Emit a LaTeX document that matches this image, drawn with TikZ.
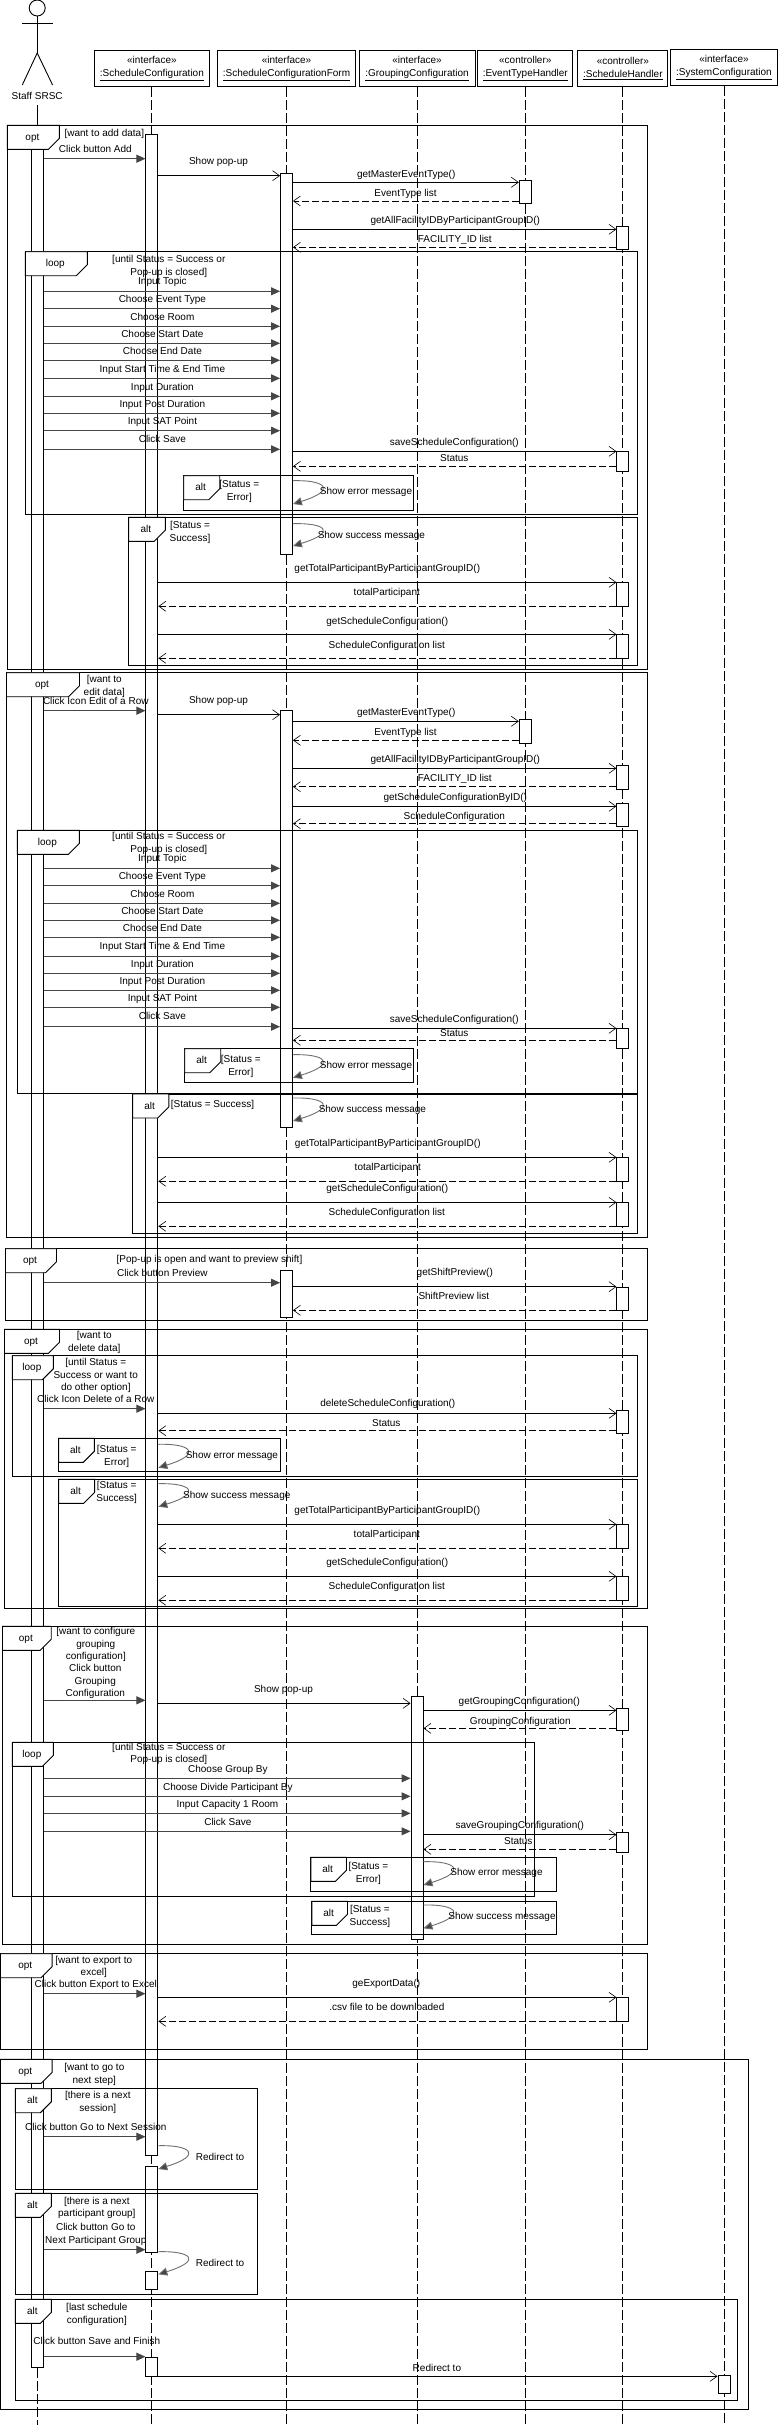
\documentclass[tikz,border=0pt]{standalone}
\usepackage{fontspec}
\setmainfont{Liberation Sans}
\usepackage{tikz}
\usetikzlibrary{arrows.meta}
\definecolor{msgline}{RGB}{70,70,70}
\definecolor{selfline}{RGB}{110,110,110}
\newcommand{\umlfrag}[7]{%
  \draw[fragbox] (#2,#3) rectangle (#4,#5);
  \draw[fraglabel] (#2,#3) -- ++(#6,0) -- ++(0,13) -- ++(-11,11) -- (#2,#3+24) -- cycle;
  \node[lab] (#1) at (#2+#6/2-1,#3+11.5) {#7};
}
\begin{document}
\begin{tikzpicture}[
  x=1pt, y=-1pt,
  every node/.style={font=\fontsize{10}{12.6}\selectfont},
  lab/.style={inner sep=0pt, text height=8pt, text depth=1pt},
  lab2/.style={inner sep=0pt, align=center, yshift=-1pt},
  head/.style={draw, line width=0.9pt, fill=white, align=center, minimum height=36.4pt, inner sep=0pt},
  lifeline/.style={line width=0.9pt, dash pattern=on 10pt off 3pt},
  actbar/.style={draw, line width=0.9pt, fill=white, anchor=north, minimum width=12pt, inner sep=0pt},
  fragbox/.style={draw, line width=0.9pt},
  fraglabel/.style={draw, line width=0.9pt, fill=white},
  usermsg/.style={draw=msgline, line width=0.9pt, -{Triangle[length=9pt, width=8pt, fill=msgline]}},
  callmsg/.style={draw=black, line width=0.9pt, -{Straight Barb[length=7pt, width=10pt, line width=0.6pt]}},
  retmsg/.style={callmsg, dash pattern=on 7pt off 3pt},
  selfmsg/.style={draw=selfline, line width=0.9pt, -{Triangle[length=9pt, width=8pt, fill=msgline]}}
]
\path[use as bounding box] (0,0) rectangle (778,2425);
\coordinate (bottom) at (0,2425);

% actor
\node[circle, draw, line width=0.9pt, minimum size=16pt, inner sep=0pt] (staffhead) at (37.2,8) {};
\draw[line width=0.9pt] (staffhead.south) -- (37.2,53) coordinate (hip);
\draw[line width=0.9pt] (22.3,23.5) -- (53.1,23.5);
\draw[line width=0.9pt] (22.3,85) -- (hip) -- (52.6,85);
\node[lab] (staff) at (37.2,96) {Staff SRSC};

% objects
\node[head, minimum width=115pt] (sc) at (151.9,68.5) {«interface»\\\underline{:ScheduleConfiguration}};
\node[head, minimum width=138pt] (sf) at (286.5,68.5) {«interface»\\\underline{:ScheduleConfigurationForm}};
\node[head, minimum width=116pt] (gc) at (417,68.5) {«interface»\\\underline{:GroupingConfiguration}};
\node[head, minimum width=95pt] (eth) at (525.3,68.5) {«controller»\\\underline{:EventTypeHandler}};
\node[head, minimum width=90pt] (sh) at (622.9,68.5) {«controller»\\\underline{:ScheduleHandler}};
\node[head, minimum width=106.5pt] (sys) at (724,67.5) {«interface»\\\underline{:SystemConfiguration}};

% lifelines
\draw[lifeline] (sc.south) -- (sc |- bottom);
\draw[lifeline] (sf.south) -- (sf |- bottom);
\draw[lifeline] (gc.south) -- (gc |- bottom);
\draw[lifeline] (eth.south) -- (eth |- bottom);
\draw[lifeline] (sh.south) -- (sh |- bottom);
\draw[lifeline] (sys.south) -- (sys |- bottom);

% activation bars
\node[actbar, minimum height=2232pt] (acA) at (staff |- 0,135) {};
\draw[line width=0.9pt] (staff |- 0,105) -- (acA.north);
\draw[lifeline] (acA.south) -- (staff |- bottom);
\node[actbar, minimum height=2021pt] (scA) at (sc |- 0,134) {};
\node[actbar, minimum height=86.3pt] (scB) at (sc |- 0,2165.7) {};
\node[actbar, minimum height=18.3pt] (scC) at (sc |- 0,2270.7) {};
\node[actbar, minimum height=19.6pt] (scD) at (sc |- 0,2356.7) {};
\node[actbar, minimum height=381pt] (sfA) at (sf |- 0,173.3) {};
\node[actbar, minimum height=417pt] (sfB) at (sf |- 0,710.3) {};
\node[actbar, minimum height=47pt] (sfC) at (sf |- 0,1270.3) {};
\node[actbar, minimum height=243pt] (gcA) at (gc |- 0,1696.3) {};
\node[actbar, minimum height=23pt] (ethA) at (eth |- 0,180.3) {};
\node[actbar, minimum height=23.4pt] (ethB) at (eth |- 0,719.3) {};
\node[actbar, minimum height=23pt] (shA) at (sh |- 0,226.3) {};
\node[actbar, minimum height=20pt] (shB) at (sh |- 0,451.3) {};
\node[actbar, minimum height=24pt] (shC) at (sh |- 0,582.3) {};
\node[actbar, minimum height=24pt] (shD) at (sh |- 0,634.3) {};
\node[actbar, minimum height=23.4pt] (shE) at (sh |- 0,765.3) {};
\node[actbar, minimum height=22.4pt] (shF) at (sh |- 0,803.3) {};
\node[actbar, minimum height=20pt] (shG) at (sh |- 0,1028.3) {};
\node[actbar, minimum height=24pt] (shH) at (sh |- 0,1157.3) {};
\node[actbar, minimum height=24pt] (shI) at (sh |- 0,1202.3) {};
\node[actbar, minimum height=23.6pt] (shJ) at (sh |- 0,1286.7) {};
\node[actbar, minimum height=22.4pt] (shK) at (sh |- 0,1410.3) {};
\node[actbar, minimum height=24pt] (shL) at (sh |- 0,1524.3) {};
\node[actbar, minimum height=24pt] (shM) at (sh |- 0,1576.3) {};
\node[actbar, minimum height=22pt] (shN) at (sh |- 0,1708.3) {};
\node[actbar, minimum height=20pt] (shO) at (sh |- 0,1832.3) {};
\node[actbar, minimum height=24pt] (shP) at (sh |- 0,1997.3) {};
\node[actbar, minimum height=18.6pt] (sysA) at (sys |- 0,2374.7) {};

% add data
\umlfrag{optA}{7.4}{125.3}{647}{669.3}{52}{opt}
\umlfrag{loopA}{25.3}{251.7}{637}{514.3}{62}{loop}
\umlfrag{altA}{183.7}{475.7}{413.6}{510.3}{36}{alt}
\umlfrag{altB}{128.6}{517.3}{637}{665.3}{36.7}{alt}
\node[lab] (gA) at (104.3,132.7) {[want to add data]};
\node[lab2] (gB) at (168.8,265.3) {[until Status = Success or\\Pop-up is closed]};
\node[lab2] (gC) at (239.3,490.3) {[Status =\\Error]};
\node[lab2] (gD) at (190,531.3) {[Status =\\Success]};
\draw[usermsg] (acA.east |- 0,158.7) -- (scA.west |- 0,158.7) node[lab] (a1) at (95.3,149) {Click button Add};
\draw[callmsg] (scA.east |- 0,175.7) -- (sfA.west |- 0,175.7) node[lab] (a2) at (218.5,161) {Show pop-up};
\draw[callmsg] (sfA.east |- 0,182.3) -- (ethA.west |- 0,182.3) node[lab] (a3) at (406.2,174) {getMasterEventType()};
\draw[retmsg] (ethA.west |- 0,201) -- (sfA.east |- 0,201) node[lab] (a4) at (405.6,192.7) {EventType list};
\draw[callmsg] (sfA.east |- 0,229.3) -- (shA.west |- 0,229.3) node[lab] (a5) at (455.3,220) {getAllFacilityIDByParticipantGroupID()};
\draw[retmsg] (shA.west |- 0,247.3) -- (sfA.east |- 0,247.3) node[lab] (a6) at (454.8,238.7) {FACILITY\_ID list};
\draw[usermsg] (acA.east |- 0,291.3) -- (sfA.west |- 0,291.3) node[lab] (a7) at (162.4,281) {Input Topic};
\draw[usermsg] (acA.east |- 0,308.7) -- (sfA.west |- 0,308.7) node[lab] (a8) at (162.4,299) {Choose Event Type};
\draw[usermsg] (acA.east |- 0,326.3) -- (sfA.west |- 0,326.3) node[lab] (a9) at (162.4,317) {Choose Room};
\draw[usermsg] (acA.east |- 0,343.3) -- (sfA.west |- 0,343.3) node[lab] (a10) at (162.4,334) {Choose Start Date};
\draw[usermsg] (acA.east |- 0,360.3) -- (sfA.west |- 0,360.3) node[lab] (a11) at (162.4,351) {Choose End Date};
\draw[usermsg] (acA.east |- 0,378.3) -- (sfA.west |- 0,378.3) node[lab] (a12) at (162.4,369) {Input Start Time \& End Time};
\draw[usermsg] (acA.east |- 0,396.3) -- (sfA.west |- 0,396.3) node[lab] (a13) at (162.4,387) {Input Duration};
\draw[usermsg] (acA.east |- 0,413.3) -- (sfA.west |- 0,413.3) node[lab] (a14) at (162.4,404) {Input Post Duration};
\draw[usermsg] (acA.east |- 0,430.7) -- (sfA.west |- 0,430.7) node[lab] (a15) at (162.4,421) {Input SAT Point};
\draw[usermsg] (acA.east |- 0,449.3) -- (sfA.west |- 0,449.3) node[lab] (a16) at (162.4,439) {Click Save};
\draw[callmsg] (sfA.east |- 0,451.3) -- (shB.west |- 0,451.3) node[lab] (a17) at (454.3,441.7) {saveScheduleConfiguration()};
\draw[retmsg] (shB.west |- 0,466.3) -- (sfA.east |- 0,466.3) node[lab] (a18) at (454.3,457.7) {Status};
\draw[selfmsg] (sfA.east |- 0,480.7) .. controls +(32,-1) and +(45,-14) .. (sfA.east |- 0,504) node[lab] (a19) at (366,490.7) {Show error message};
\draw[selfmsg] (sfA.east |- 0,523.7) .. controls +(32,-1) and +(45,-14) .. (sfA.east |- 0,546) node[lab] (a20) at (371.4,535) {Show success message};
\draw[callmsg] (scA.east |- 0,582.3) -- (shC.west |- 0,582.3) node[lab] (a21) at (387.3,568) {getTotalParticipantByParticipantGroupID()};
\draw[retmsg] (shC.west |- 0,606.3) -- (scA.east |- 0,606.3) node[lab] (a22) at (386.8,592) {totalParticipant};
\draw[callmsg] (scA.east |- 0,634.3) -- (shD.west |- 0,634.3) node[lab] (a23) at (387.3,621) {getScheduleConfiguration()};
\draw[retmsg] (shD.west |- 0,658.3) -- (scA.east |- 0,658.3) node[lab] (a24) at (386.8,645) {ScheduleConfiguration list};

% edit data
\umlfrag{optB}{6.5}{672.7}{647}{1237.3}{73}{opt}
\umlfrag{loopB}{17.4}{830.3}{637}{1093.3}{62}{loop}
\umlfrag{altC}{184.7}{1048.7}{413.6}{1082.3}{36}{alt}
\umlfrag{altD}{132.6}{1094}{637}{1233.3}{36.2}{alt}
\node[lab2] (gE) at (104.3,685.3) {[want to\\edit data]};
\node[lab2] (gF) at (168.8,842.3) {[until Status = Success or\\Pop-up is closed]};
\node[lab2] (gG) at (240.8,1065.3) {[Status =\\Error]};
\node[lab] (gH) at (212.5,1104) {[Status = Success]};
\draw[usermsg] (acA.east |- 0,710.7) -- (scA.west |- 0,710.7) node[lab] (b1) at (95.8,700.7) {Click Icon Edit of a Row};
\draw[callmsg] (scA.east |- 0,714.7) -- (sfB.west |- 0,714.7) node[lab] (b2) at (218.5,700) {Show pop-up};
\draw[callmsg] (sfB.east |- 0,721.3) -- (ethB.west |- 0,721.3) node[lab] (b3) at (406.2,712) {getMasterEventType()};
\draw[retmsg] (ethB.west |- 0,740.3) -- (sfB.east |- 0,740.3) node[lab] (b4) at (405.6,731.7) {EventType list};
\draw[callmsg] (sfB.east |- 0,768.3) -- (shE.west |- 0,768.3) node[lab] (b5) at (455.3,758.7) {getAllFacilityIDByParticipantGroupID()};
\draw[retmsg] (shE.west |- 0,786.7) -- (sfB.east |- 0,786.7) node[lab] (b6) at (454.8,777.7) {FACILITY\_ID list};
\draw[callmsg] (sfB.east |- 0,806.3) -- (shF.west |- 0,806.3) node[lab] (b7) at (455.3,797) {getScheduleConfigurationByID()};
\draw[retmsg] (shF.west |- 0,823.7) -- (sfB.east |- 0,823.7) node[lab] (b8) at (454.3,815.7) {ScheduleConfiguration};
\draw[usermsg] (acA.east |- 0,868.3) -- (sfB.west |- 0,868.3) node[lab] (b9) at (162.4,857.7) {Input Topic};
\draw[usermsg] (acA.east |- 0,885.7) -- (sfB.west |- 0,885.7) node[lab] (b10) at (162.4,876) {Choose Event Type};
\draw[usermsg] (acA.east |- 0,903.3) -- (sfB.west |- 0,903.3) node[lab] (b11) at (162.4,894) {Choose Room};
\draw[usermsg] (acA.east |- 0,920.3) -- (sfB.west |- 0,920.3) node[lab] (b12) at (162.4,911) {Choose Start Date};
\draw[usermsg] (acA.east |- 0,937.3) -- (sfB.west |- 0,937.3) node[lab] (b13) at (162.4,928) {Choose End Date};
\draw[usermsg] (acA.east |- 0,956.3) -- (sfB.west |- 0,956.3) node[lab] (b14) at (162.4,946) {Input Start Time \& End Time};
\draw[usermsg] (acA.east |- 0,973.3) -- (sfB.west |- 0,973.3) node[lab] (b15) at (162.4,964) {Input Duration};
\draw[usermsg] (acA.east |- 0,990.3) -- (sfB.west |- 0,990.3) node[lab] (b16) at (162.4,981) {Input Post Duration};
\draw[usermsg] (acA.east |- 0,1007.3) -- (sfB.west |- 0,1007.3) node[lab] (b17) at (162.4,997.7) {Input SAT Point};
\draw[usermsg] (acA.east |- 0,1026.7) -- (sfB.west |- 0,1026.7) node[lab] (b18) at (162.4,1016) {Click Save};
\draw[callmsg] (sfB.east |- 0,1028.3) -- (shG.west |- 0,1028.3) node[lab] (b19) at (454.3,1019) {saveScheduleConfiguration()};
\draw[retmsg] (shG.west |- 0,1040.3) -- (sfB.east |- 0,1040.3) node[lab] (b20) at (454.3,1032.7) {Status};
\draw[selfmsg] (sfB.east |- 0,1054.7) .. controls +(32,-1) and +(45,-14) .. (sfB.east |- 0,1077.7) node[lab] (b21) at (366,1065) {Show error message};
\draw[selfmsg] (sfB.east |- 0,1098) .. controls +(32,-1) and +(45,-14) .. (sfB.east |- 0,1121) node[lab] (b22) at (372.4,1109) {Show success message};
\draw[callmsg] (scA.east |- 0,1157.3) -- (shH.west |- 0,1157.3) node[lab] (b23) at (387.8,1142.7) {getTotalParticipantByParticipantGroupID()};
\draw[retmsg] (shH.west |- 0,1181.3) -- (scA.east |- 0,1181.3) node[lab] (b24) at (387.8,1167) {totalParticipant};
\draw[callmsg] (scA.east |- 0,1202.3) -- (shI.west |- 0,1202.3) node[lab] (b25) at (387.3,1188) {getScheduleConfiguration()};
\draw[retmsg] (shI.west |- 0,1226.3) -- (scA.east |- 0,1226.3) node[lab] (b26) at (386.8,1212) {ScheduleConfiguration list};

% preview shift
\umlfrag{optC}{5.5}{1248.7}{647}{1320.3}{51}{opt}
\node[lab] (gI) at (209.5,1259) {[Pop-up is open and want to preview shift]};
\draw[usermsg] (acA.east |- 0,1282.7) -- (sfC.west |- 0,1282.7) node[lab] (c1) at (162.4,1272.7) {Click button Preview};
\draw[callmsg] (sfC.east |- 0,1286.7) -- (shJ.west |- 0,1286.7) node[lab] (c2) at (454.8,1272) {getShiftPreview()};
\draw[retmsg] (shJ.west |- 0,1310.3) -- (sfC.east |- 0,1310.3) node[lab] (c3) at (453.8,1295.7) {ShiftPreview list};

% delete data
\umlfrag{optD}{4.5}{1329.3}{647}{1608.3}{55}{opt}
\umlfrag{loopC}{12.4}{1355.7}{637}{1476.3}{41}{loop}
\umlfrag{altE}{58.6}{1438.3}{280.5}{1471.3}{35.7}{alt}
\umlfrag{altF}{58.6}{1479.3}{637}{1606.3}{36}{alt}
\node[lab2] (gJ) at (94.3,1341.3) {[want to\\delete data]};
\node[lab2] (gK) at (95.8,1374.7) {[until Status =\\Success or want to\\do other option]};
\node[lab2] (gL) at (116.7,1455.3) {[Status =\\Error]};
\node[lab2] (gM) at (116.7,1491.3) {[Status =\\Success]};
\draw[usermsg] (acA.east |- 0,1408.7) -- (scA.west |- 0,1408.7) node[lab] (d1) at (95.8,1399) {Click Icon Delete of a Row};
\draw[callmsg] (scA.east |- 0,1413.3) -- (shK.west |- 0,1413.3) node[lab] (d2) at (387.8,1402.7) {deleteScheduleConfiguration()};
\draw[retmsg] (shK.west |- 0,1430.7) -- (scA.east |- 0,1430.7) node[lab] (d3) at (386.3,1423) {Status};
\draw[selfmsg] (scA.east |- 0,1444.3) .. controls +(32,-1) and +(45,-14) .. (scA.east |- 0,1467.7) node[lab] (d4) at (231.9,1455) {Show error message};
\draw[selfmsg] (scA.east |- 0,1483.7) .. controls +(32,-1) and +(45,-14) .. (scA.east |- 0,1506.7) node[lab] (d5) at (236.8,1495) {Show success message};
\draw[callmsg] (scA.east |- 0,1524.3) -- (shL.west |- 0,1524.3) node[lab] (d6) at (387.3,1510) {getTotalParticipantByParticipantGroupID()};
\draw[retmsg] (shL.west |- 0,1548.3) -- (scA.east |- 0,1548.3) node[lab] (d7) at (386.8,1534) {totalParticipant};
\draw[callmsg] (scA.east |- 0,1576.3) -- (shM.west |- 0,1576.3) node[lab] (d8) at (387.3,1561.7) {getScheduleConfiguration()};
\draw[retmsg] (shM.west |- 0,1600.3) -- (scA.east |- 0,1600.3) node[lab] (d9) at (386.8,1585.7) {ScheduleConfiguration list};

% grouping configuration
\umlfrag{optE}{2.5}{1626.3}{647}{1944.3}{48.7}{opt}
\umlfrag{loopD}{12.4}{1742.3}{534.7}{1896.3}{41}{loop}
\umlfrag{altG}{310.8}{1857.3}{556}{1891.3}{35.7}{alt}
\umlfrag{altH}{311.8}{1901.3}{556}{1934.3}{35.7}{alt}
\node[lab2] (gN) at (95.8,1643.7) {[want to configure\\grouping\\configuration]};
\node[lab2] (gO) at (168.8,1753) {[until Status = Success or\\Pop-up is closed]};
\node[lab2] (gP) at (368.4,1872.3) {[Status =\\Error]};
\node[lab2] (gQ) at (369.9,1915.3) {[Status =\\Success]};
\draw[usermsg] (acA.east |- 0,1700.3) -- (scA.west |- 0,1700.3) node[lab2] (e1) at (95.3,1680.7) {Click button\\Grouping\\Configuration};
\draw[callmsg] (scA.east |- 0,1703.3) -- (gcA.west |- 0,1703.3) node[lab] (e2) at (283.5,1688.7) {Show pop-up};
\draw[callmsg] (gcA.east |- 0,1710.3) -- (shN.west |- 0,1710.3) node[lab] (e3) at (519.3,1701) {getGroupingConfiguration()};
\draw[retmsg] (shN.west |- 0,1728.3) -- (gcA.east |- 0,1728.3) node[lab] (e4) at (520.3,1721) {GroupingConfiguration};
\draw[usermsg] (acA.east |- 0,1778.3) -- (gcA.west |- 0,1778.3) node[lab] (e5) at (227.9,1768.7) {Choose Group By};
\draw[usermsg] (acA.east |- 0,1796.3) -- (gcA.west |- 0,1796.3) node[lab] (e6) at (227.9,1786.7) {Choose Divide Participant By};
\draw[usermsg] (acA.east |- 0,1813.3) -- (gcA.west |- 0,1813.3) node[lab] (e7) at (227.4,1804) {Input Capacity 1 Room};
\draw[usermsg] (acA.east |- 0,1831.3) -- (gcA.west |- 0,1831.3) node[lab] (e8) at (227.9,1821.7) {Click Save};
\draw[callmsg] (gcA.east |- 0,1834.7) -- (shO.west |- 0,1834.7) node[lab] (e9) at (519.8,1824.7) {saveGroupingConfiguration()};
\draw[retmsg] (shO.west |- 0,1849.3) -- (gcA.east |- 0,1849.3) node[lab] (e10) at (518.3,1840.7) {Status};
\draw[selfmsg] (gcA.east |- 0,1861.7) .. controls +(32,-1) and +(45,-14) .. (gcA.east |- 0,1885) node[lab] (e11) at (496.5,1872) {Show error message};
\draw[selfmsg] (gcA.east |- 0,1905) .. controls +(32,-1) and +(45,-14) .. (gcA.east |- 0,1928.3) node[lab] (e12) at (502,1916) {Show success message};

% export
\umlfrag{optF}{0.5}{1953.7}{647}{2049.3}{51.6}{opt}
\node[lab2] (gR) at (93.8,1966) {[want to export to\\excel]};
\draw[usermsg] (acA.east |- 0,1993.7) -- (scA.west |- 0,1993.7) node[lab] (f1) at (95.8,1984) {Click button Export to Excel};
\draw[callmsg] (scA.east |- 0,1997.3) -- (shP.west |- 0,1997.3) node[lab] (f2) at (386.3,1983.3) {geExportData()};
\draw[retmsg] (shP.west |- 0,2021.3) -- (scA.east |- 0,2021.3) node[lab] (f3) at (386.8,2007) {.csv file to be downloaded};

% next step
\umlfrag{optG}{0.5}{2059.3}{748.2}{2409.3}{51.6}{opt}
\umlfrag{altI}{15.4}{2088.7}{257.7}{2189.3}{36}{alt}
\umlfrag{altJ}{15.4}{2193.3}{257.7}{2294.3}{36}{alt}
\umlfrag{altK}{15.4}{2299.3}{737.8}{2400.7}{36}{alt}
\node[lab2] (gS) at (94.3,2073.5) {[want to go to\\next step]};
\node[lab2] (gT) at (97.8,2101.3) {[there is a next\\session]};
\node[lab2] (gU) at (96.8,2207) {[there is a next\\participant group]};
\node[lab2] (gV) at (96.8,2313.3) {[last schedule\\configuration]};
\draw[usermsg] (acA.east |- 0,2136.7) -- (scA.west |- 0,2136.7) node[lab] (h1) at (95.8,2127) {Click button Go to Next Session};
\draw[selfmsg] (scA.east |- 0,2145.7) .. controls +(32,-1) and +(45,-14) .. (scB.east |- 0,2169) node[lab] (h2) at (220,2157) {Redirect to};
\draw[usermsg] (acA.east |- 0,2249.7) -- (scB.west |- 0,2249.7) node[lab2] (h3) at (95.8,2233.5) {Click button Go to\\Next Participant Group};
\draw[selfmsg] (scB.east |- 0,2251.7) .. controls +(32,-1) and +(45,-14) .. (scC.east |- 0,2274.3) node[lab] (h4) at (220,2263) {Redirect to};
\draw[usermsg] (acA.east |- 0,2356.7) -- (scD.west |- 0,2356.7) node[lab] (h5) at (96.8,2340.7) {Click button Save and Finish};
\draw[callmsg] (scD.east |- 0,2376.3) -- (sysA.west |- 0,2376.3) node[lab] (h6) at (436.9,2368) {Redirect to};
\end{tikzpicture}
\end{document}
